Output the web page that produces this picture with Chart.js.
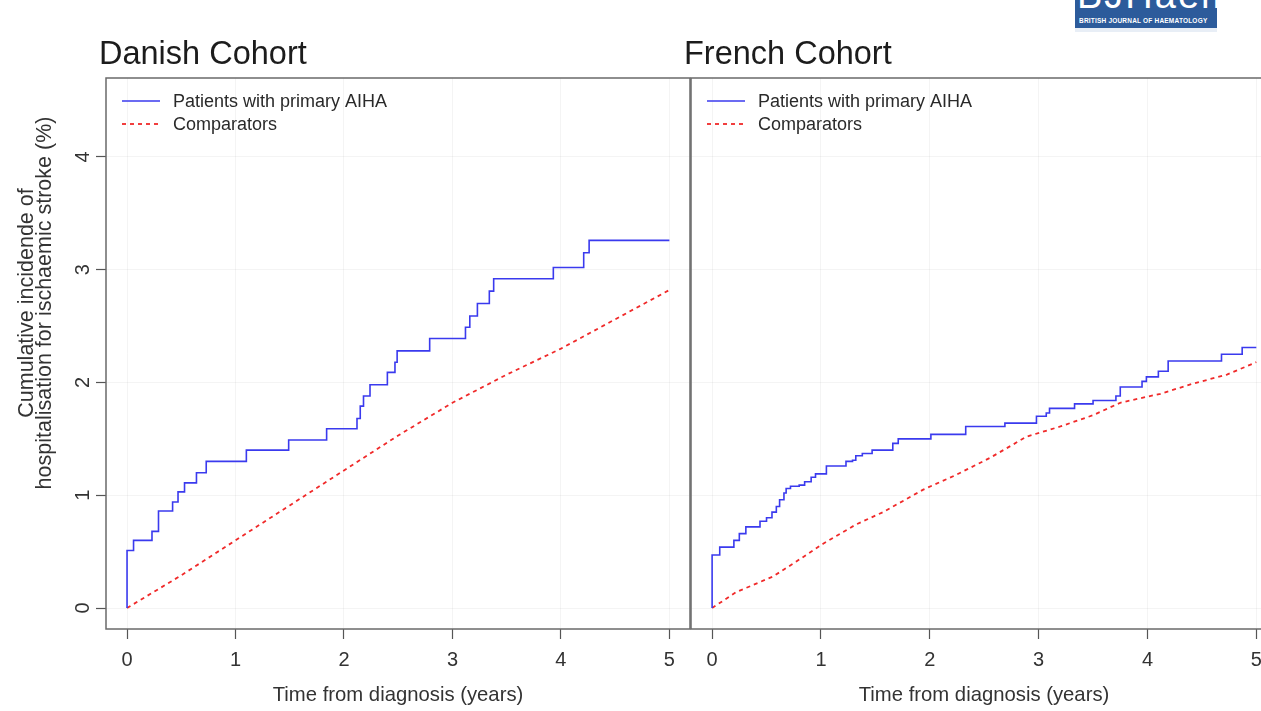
<!DOCTYPE html>
<html>
<head>
<meta charset="utf-8">
<script src="https://cdn.jsdelivr.net/npm/chart.js@4.4.1/dist/chart.umd.min.js"></script>
<style>
html,body{margin:0;padding:0;width:1261px;height:711px;overflow:hidden;background:#fff;font-family:"Liberation Sans",Arial,sans-serif;}
#wl{position:absolute;left:0;top:0;width:700px;height:711px;}
#wr{position:absolute;left:600px;top:0;width:700px;height:711px;}
#logo{position:absolute;left:1075px;top:0;width:142px;height:28px;background:#2c5b9b;overflow:hidden;color:#fff;}
#logo .big{position:absolute;left:2px;top:-24px;font-size:38px;line-height:38px;letter-spacing:2px;white-space:nowrap;}
#logo .small{position:absolute;left:4px;top:17px;font-size:6.5px;line-height:8px;font-weight:bold;white-space:nowrap;letter-spacing:0.2px;}
#logoStrip{position:absolute;left:1075px;top:28px;width:142px;height:4px;background:#e8eef6;}
</style>
</head>
<body>
<div id="wl"><canvas id="cl"></canvas></div>
<div id="wr"><canvas id="cr"></canvas></div>
<div id="logo"><div class="big">BJHaem</div><div class="small">BRITISH JOURNAL OF HAEMATOLOGY</div></div>
<div id="logoStrip"></div>
<script>
// ---------------- data ----------------
const seriesLabels = ["Patients with primary AIHA", "Comparators"];
const panelTitles = ["Danish Cohort", "French Cohort"];
const xTickValues = [0, 1, 2, 3, 4, 5];
const yTickValues = [0, 1, 2, 3, 4];
const xAxisTitle = "Time from diagnosis (years)";
const yAxisTitle = ["Cumulative incidende of", "hospitalisation for ischaemic stroke (%)"];

// Danish cohort – patients with primary AIHA (step function: event time, new level)
const danishAihaYears = [0, 0, 0.06, 0.23, 0.29, 0.42, 0.47, 0.53, 0.64, 0.73, 1.10, 1.49, 1.84, 2.12, 2.15, 2.18, 2.24, 2.40, 2.47, 2.49, 2.79, 3.12, 3.16, 3.23, 3.34, 3.38, 3.93, 4.21, 4.26, 5.00];
const danishAihaValues = [0, 0.51, 0.60, 0.68, 0.86, 0.94, 1.03, 1.11, 1.20, 1.30, 1.40, 1.49, 1.59, 1.68, 1.79, 1.88, 1.98, 2.09, 2.18, 2.28, 2.39, 2.49, 2.59, 2.70, 2.81, 2.92, 3.02, 3.15, 3.26, 3.26];
// Danish cohort – comparators
const danishCompYears = [0, 0.5, 1.0, 1.5, 2.0, 2.5, 3.0, 3.5, 4.0, 4.5, 5.0];
const danishCompValues = [0, 0.29, 0.60, 0.91, 1.22, 1.53, 1.82, 2.07, 2.30, 2.56, 2.82];

// French cohort – patients with primary AIHA
const frenchAihaYears = [0, 0, 0.07, 0.20, 0.25, 0.31, 0.44, 0.50, 0.55, 0.59, 0.62, 0.66, 0.68, 0.72, 0.80, 0.85, 0.91, 0.95, 1.05, 1.23, 1.29, 1.32, 1.38, 1.47, 1.66, 1.71, 2.01, 2.33, 2.69, 2.98, 3.07, 3.10, 3.33, 3.50, 3.71, 3.75, 3.95, 3.99, 4.10, 4.19, 4.68, 4.87, 5.00];
const frenchAihaValues = [0, 0.47, 0.54, 0.60, 0.66, 0.72, 0.77, 0.80, 0.85, 0.90, 0.96, 1.02, 1.06, 1.08, 1.09, 1.12, 1.16, 1.19, 1.26, 1.30, 1.31, 1.35, 1.37, 1.40, 1.46, 1.50, 1.54, 1.61, 1.64, 1.70, 1.73, 1.77, 1.81, 1.84, 1.88, 1.96, 2.01, 2.05, 2.10, 2.19, 2.25, 2.31, 2.31];
// French cohort – comparators
const frenchCompYears = [0, 0.22, 0.56, 0.77, 1.02, 1.32, 1.57, 1.94, 2.24, 2.55, 2.89, 3.20, 3.50, 3.75, 4.12, 4.42, 4.73, 5.00];
const frenchCompValues = [0, 0.14, 0.28, 0.41, 0.57, 0.74, 0.85, 1.05, 1.18, 1.33, 1.52, 1.61, 1.71, 1.82, 1.90, 1.99, 2.07, 2.18];

// ---------------- styling ----------------
const FONT = '"Liberation Sans", Arial, Helvetica, sans-serif';
const BLUE = '#3a3aee';
const RED = '#f02a2a';
const pts = (xs, ys) => xs.map((x, i) => ({x: x, y: ys[i]}));

const panelPlugin = {
  id: 'rpanel',
  afterDraw(chart, args, opts) {
    const ctx = chart.ctx;
    const a = chart.chartArea;
    ctx.save();
    // box
    ctx.strokeStyle = '#6a6a6a';
    ctx.lineWidth = 1.5;
    ctx.setLineDash([]);
    ctx.strokeRect(a.left, a.top, a.right - a.left, a.bottom - a.top);
    // panel title
    ctx.fillStyle = '#1c1c1c';
    ctx.font = '32.5px ' + FONT;
    ctx.textAlign = 'left';
    ctx.textBaseline = 'alphabetic';
    ctx.fillText(opts.title, opts.titleX, 64);
    // legend
    ctx.font = '18px ' + FONT;
    ctx.textBaseline = 'middle';
    chart.data.datasets.forEach((ds, i) => {
      const y = 101 + i * 23;
      ctx.strokeStyle = ds.borderColor;
      ctx.lineWidth = ds.borderWidth;
      ctx.setLineDash(ds.borderDash || []);
      ctx.beginPath();
      ctx.moveTo(opts.legendX, y);
      ctx.lineTo(opts.legendX + 38, y);
      ctx.stroke();
      ctx.setLineDash([]);
      ctx.fillStyle = '#2a2a2a';
      ctx.fillText(ds.label, opts.legendX + 51, y + 1);
    });
    // y axis labels + title (left panel only)
    if (opts.showY) {
      const ys = chart.scales.y;
      ctx.fillStyle = '#333';
      ctx.font = '20px ' + FONT;
      ctx.textAlign = 'center';
      ctx.textBaseline = 'middle';
      ys.ticks.forEach(t => {
        const py = ys.getPixelForValue(t.value);
        ctx.save();
        ctx.translate(83, py);
        ctx.rotate(-Math.PI / 2);
        ctx.fillText(String(t.value), 0, 0);
        ctx.restore();
      });
      ctx.save();
      ctx.translate(27, 303);
      ctx.rotate(-Math.PI / 2);
      ctx.font = '21.5px ' + FONT;
      ctx.fillStyle = '#333';
      ctx.fillText(yAxisTitle[0], 0, 0);
      ctx.fillText(yAxisTitle[1], 0, 18);
      ctx.restore();
    }
    ctx.restore();
  }
};

function makeChart(id, aiha, comp, cfg) {
  return new Chart(document.getElementById(id), {
    type: 'line',
    data: {
      datasets: [
        {label: seriesLabels[0], data: aiha, borderColor: BLUE, borderWidth: 1.6, stepped: 'before', pointRadius: 0, fill: false},
        {label: seriesLabels[1], data: comp, borderColor: RED, borderWidth: 1.8, borderDash: [4, 4], pointRadius: 0, fill: false, tension: 0}
      ]
    },
    options: {
      responsive: true,
      maintainAspectRatio: false,
      animation: false,
      events: [],
      layout: {padding: {top: 78, right: cfg.padRight, left: 0, bottom: 0}},
      plugins: {
        legend: {display: false},
        tooltip: {enabled: false},
        title: {display: false},
        rpanel: {title: cfg.title, titleX: cfg.titleX, legendX: cfg.legendX, showY: cfg.showY}
      },
      scales: {
        x: {
          type: 'linear',
          min: -0.194, max: 5.19,
          afterBuildTicks: s => { s.ticks = xTickValues.map(v => ({value: v})); },
          afterFit: s => { s.height = 82; },
          border: {display: false},
          grid: {color: 'rgba(0,0,0,0.045)', lineWidth: 1, drawTicks: true, tickLength: 10, tickColor: '#555', tickWidth: 1.2},
          ticks: {color: '#333', font: {family: FONT, size: 20}, padding: 9, maxRotation: 0, includeBounds: false,
                  callback: v => String(v)},
          title: {display: true, text: xAxisTitle, color: '#333', font: {family: FONT, size: 20.3}, padding: {top: 0, bottom: 3}}
        },
        y: {
          type: 'linear',
          min: -0.186, max: 4.70,
          afterBuildTicks: s => { s.ticks = yTickValues.map(v => ({value: v})); },
          afterFit: s => { s.width = cfg.yWidth; },
          border: {display: false},
          grid: {color: 'rgba(0,0,0,0.045)', lineWidth: 1, drawTicks: cfg.showY, tickLength: 10, tickColor: '#555', tickWidth: 1.2},
          ticks: {display: false, includeBounds: false}
        }
      }
    },
    plugins: [panelPlugin]
  });
}

makeChart('cl', pts(danishAihaYears, danishAihaValues), pts(danishCompYears, danishCompValues),
  {title: panelTitles[0], titleX: 99, legendX: 122, showY: true, yWidth: 106, padRight: 10});
makeChart('cr', pts(frenchAihaYears, frenchAihaValues), pts(frenchCompYears, frenchCompValues),
  {title: panelTitles[1], titleX: 84, legendX: 107, showY: false, yWidth: 91, padRight: 23});
</script>
</body>
</html>
